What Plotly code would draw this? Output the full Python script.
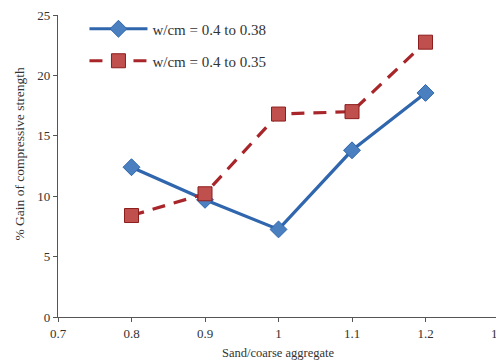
import plotly.graph_objects as go

ratio = [0.8, 0.9, 1.0, 1.1, 1.2]
gain_038 = [12.4, 9.7, 7.25, 13.8, 18.55]
gain_035 = [8.4, 10.2, 16.8, 17.0, 22.75]
series_names = ["w/cm = 0.4 to 0.38", "w/cm = 0.4 to 0.35"]
x_ticks = [0.7, 0.8, 0.9, 1.0, 1.1, 1.2, 1.3]
x_tick_labels = ["0.7", "0.8", "0.9", "1", "1.1", "1.2", "1.3"]
y_ticks = [0, 5, 10, 15, 20, 25]
x_title = "Sand/coarse aggregate"
y_title = "% Gain of compressive strength"

FONT = "Liberation Serif, Times New Roman, serif"

# page body has an 8px margin, so the figure is drawn 8px smaller and offset
W, H = 496, 356
L, T, R, B = 50, 6, 5, 47
PH = H - T - B  # plot height
PW = W - L - R  # plot width

fig = go.Figure()
fig.add_trace(go.Scatter(
    x=ratio, y=gain_038, name=series_names[0], mode="lines+markers",
    line=dict(color="#2f66ad", width=3.2),
    marker=dict(symbol="diamond", size=13, color="#4a7fc0",
                line=dict(color="#2f66ad", width=1)),
    legend="legend", showlegend=True,
))
fig.add_trace(go.Scatter(
    x=ratio, y=gain_035, name=series_names[1], mode="lines+markers",
    line=dict(color="#a8262a", width=3.2, dash="13px,9px"),
    marker=dict(symbol="square", size=14, color="#c0504d",
                line=dict(color="#8c1d1d", width=1)),
    legend="legend2", showlegend=True,
))

axis_common = dict(
    showgrid=False, zeroline=False, showline=True, linecolor="#555555", linewidth=1.3,
    ticks="outside", ticklen=4, tickcolor="#555555", automargin=False,
    ticklabeloverflow="allow",
    tickfont=dict(family=FONT, size=13, color="#333333"),
)

leg_common = dict(xanchor="left", yanchor="middle", bgcolor="rgba(0,0,0,0)",
                  itemwidth=58, font=dict(family=FONT, size=15, color="#333333"))

fig.update_layout(
    width=W, height=H,
    margin=dict(l=L, r=R, t=T, b=B),
    paper_bgcolor="white", plot_bgcolor="white",
    font=dict(family=FONT, color="#333333"),
    showlegend=True,
    xaxis=dict(range=[0.7, 1.3], tickvals=x_ticks, ticktext=x_tick_labels, **axis_common),
    yaxis=dict(range=[0, 25], tickvals=y_ticks, **axis_common),
    legend=dict(x=0.06, y=(303 - 29 + 14) / 303, **leg_common),
    legend2=dict(x=0.06, y=(303 - 61 + 14) / 303, **leg_common),
    annotations=[
        dict(text=x_title, x=0.5, xref="paper", y=(317 - 353) / PH, yref="paper",
             xanchor="center", yanchor="middle",
             showarrow=False, font=dict(family=FONT, size=12.5, color="#333333")),
        dict(text=y_title, x=(20 - 58) / PW, xref="paper", y=(317 - 154) / PH, yref="paper",
             xanchor="center", yanchor="middle",
             showarrow=False, textangle=-90, font=dict(family=FONT, size=13.5, color="#333333")),
    ],
)

fig.write_html("out.html")
